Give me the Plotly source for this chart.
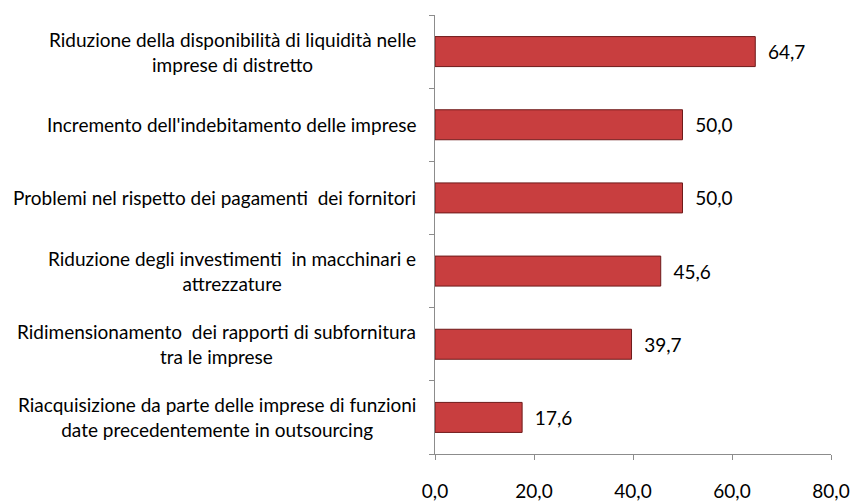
import plotly.graph_objects as go

categories = [
    "Riduzione della disponibilità di liquidità nelle<br>imprese di distretto",
    "Incremento dell'indebitamento delle imprese",
    "Problemi nel rispetto dei pagamenti  dei fornitori",
    "Riduzione degli investimenti  in macchinari e<br>attrezzature",
    "Ridimensionamento  dei rapporti di subfornitura<br>tra le imprese",
    "Riacquisizione da parte delle imprese di funzioni<br>date precedentemente in outsourcing",
]
values = [64.7, 50.0, 50.0, 45.6, 39.7, 17.6]
x_ticks = [0, 20, 40, 60, 80]

W, H = 852, 501
ML, MR, MT, MB = 435, 21, 15, 47
FONT = "Lato"
FS = 19

cats_rev = categories[::-1]
vals_rev = values[::-1]
labels_rev = ["  " + f"{v:.1f}".replace(".", ",") for v in vals_rev]

fig = go.Figure()
fig.add_trace(go.Bar(
    y=cats_rev, x=vals_rev, orientation="h",
    marker=dict(color="#C83E3F", line=dict(color="#6E1A1A", width=1)),
    text=labels_rev, textposition="outside", cliponaxis=False,
    textfont=dict(family=FONT, size=FS, color="#000000"),
))

plot_h = H - MT - MB
for i, c in enumerate(cats_rev):
    yc = MT + plot_h * (1 - (i + 0.5) / len(cats_rev))
    fig.add_annotation(
        xref="paper", yref="paper",
        x=(418 - ML) / (W - ML - MR), y=1 - (yc - MT) / plot_h,
        xanchor="right", yanchor="middle", align="center",
        text=c, showarrow=False,
        font=dict(family=FONT, size=FS, color="#000000"),
    )

fig.update_layout(
    width=W, height=H, margin=dict(l=ML, r=MR, t=MT, b=MB),
    paper_bgcolor="white", plot_bgcolor="white",
    separators=",.", bargap=0.59, showlegend=False,
    font=dict(family=FONT, size=FS, color="#000000"),
)
fig.update_xaxes(
    range=[0, 80], tickvals=x_ticks, tickformat=".1f", automargin=False,
    showgrid=False, zeroline=False, showline=True, linecolor="#8C8C8C", linewidth=1,
    ticks="outside", ticklen=5, tickcolor="#8C8C8C",
    ticklabelstandoff=15, tickfont=dict(family=FONT, size=FS, color="#000000"),
)
fig.update_yaxes(
    showticklabels=False, showgrid=False, zeroline=False, automargin=False,
    showline=True, linecolor="#8C8C8C", linewidth=1,
    ticks="outside", ticklen=5, tickcolor="#8C8C8C", tickson="boundaries",
)

fig.write_html(
    "out.html",
    config={"displayModeBar": False},
    post_script="document.body.style.margin='0';document.body.style.overflow='hidden';",
)
